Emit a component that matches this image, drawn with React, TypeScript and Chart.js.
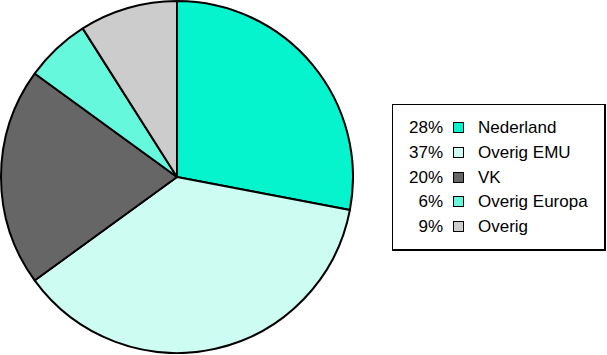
import React, { useEffect, useRef } from "react";
import { Chart, registerables } from "chart.js";

Chart.register(...registerables);

const categories = ["Nederland", "Overig EMU", "VK", "Overig Europa", "Overig"];
const shares = [28, 37, 20, 6, 9];
const colors = ["#05F3CD", "#CCFCF2", "#666666", "#66F8DC", "#CCCCCC"];

export default function App() {
  const ref = useRef<HTMLCanvasElement>(null);
  useEffect(() => {
    if (!ref.current) return;
    const chart = new Chart(ref.current, {
      type: "pie",
      data: {
        labels: categories,
        datasets: [
          {
            data: shares,
            backgroundColor: colors,
            borderColor: "#000000",
            borderWidth: 2,
          },
        ],
      },
      options: {
        animation: false,
        responsive: false,
        layout: { padding: 0 },
        plugins: { legend: { display: false }, tooltip: { enabled: false } },
      },
    });
    return () => chart.destroy();
  }, []);

  return (
    <div style={{ position: "fixed", left: 0, top: 0, width: 607, height: 355, background: "#fff" }}>
      <canvas
        ref={ref}
        width={354}
        height={354}
        style={{ position: "absolute", left: 0, top: 0, width: 354, height: 354 }}
      />
      <div
        style={{
          position: "absolute",
          left: 392,
          top: 104,
          width: 211,
          height: 144,
          borderLeft: "1px solid #000",
          borderTop: "1px solid #000",
          borderRight: "2px solid #000",
          borderBottom: "2px solid #000",
          fontFamily: "'Liberation Sans', Arial, sans-serif",
          fontSize: 17,
          color: "#000",
        }}
      >
        {categories.map((c, i) => (
          <div
            key={c}
            style={{
              position: "absolute",
              left: 0,
              top: 13 + i * 24.8,
              height: 20,
              lineHeight: "20px",
              width: 211,
            }}
          >
            <span style={{ position: "absolute", right: 161, textAlign: "right" }}>{shares[i]}%</span>
            <span
              style={{
                position: "absolute",
                left: 60,
                top: 4,
                width: 9,
                height: 9,
                border: "1.5px solid #000",
                background: colors[i],
              }}
            />
            <span style={{ position: "absolute", left: 85 }}>{c}</span>
          </div>
        ))}
      </div>
    </div>
  );
}
